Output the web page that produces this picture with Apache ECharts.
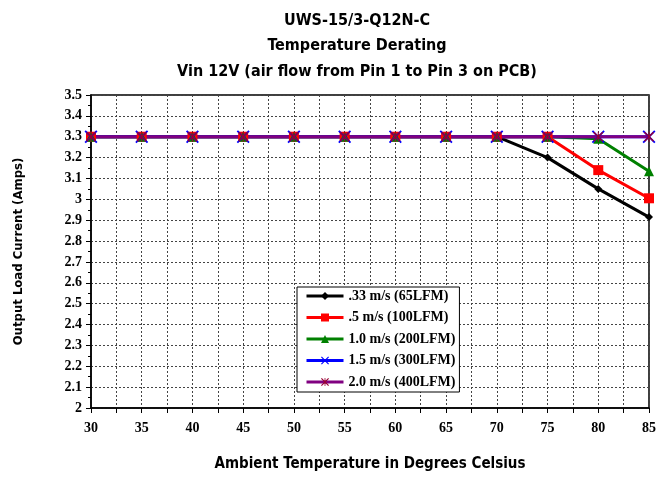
<!DOCTYPE html>
<html>
<head>
<meta charset="utf-8">
<script src="https://cdn.jsdelivr.net/npm/echarts@6/dist/echarts.min.js"></script>
<style>
html,body{margin:0;padding:0;background:#fff;}
#chart{width:667px;height:477px;}
</style>
</head>
<body>
<div id="chart"></div>
<script>
const temps = [30, 35, 40, 45, 50, 55, 60, 65, 70, 75, 80, 85];
const s033 = [3.3, 3.3, 3.3, 3.3, 3.3, 3.3, 3.3, 3.3, 3.3, 3.2, 3.05, 2.915];
const s05  = [3.3, 3.3, 3.3, 3.3, 3.3, 3.3, 3.3, 3.3, 3.3, 3.3, 3.14, 3.005];
const s10  = [3.3, 3.3, 3.3, 3.3, 3.3, 3.3, 3.3, 3.3, 3.3, 3.3, 3.29, 3.135];
const s15  = [3.3, 3.3, 3.3, 3.3, 3.3, 3.3, 3.3, 3.3, 3.3, 3.3, 3.3, 3.3];
const s20  = [3.3, 3.3, 3.3, 3.3, 3.3, 3.3, 3.3, 3.3, 3.3, 3.3, 3.3, 3.3];
const seriesNames = ['.33 m/s (65LFM)', '.5 m/s (100LFM)', '1.0 m/s (200LFM)', '1.5 m/s (300LFM)', '2.0 m/s (400LFM)'];
const titleLines = ['UWS-15/3-Q12N-C', 'Temperature Derating', 'Vin 12V (air flow from Pin 1 to Pin 3 on PCB)'];

const pair = arr => temps.map((t, i) => [t, arr[i]]);
const SANS = "'Liberation Sans Narrow', 'DejaVu Sans Condensed', 'Arial Narrow', sans-serif";
const SERIF = "'Liberation Serif', 'Times New Roman', serif";
const xPath = 'path://M0,1 L1,0 L5,4 L9,0 L10,1 L6,5 L10,9 L9,10 L5,6 L1,10 L0,9 L4,5 Z';
const starPath = 'path://M0,1 L1,0 L4.5,3.5 L4.5,0 L5.5,0 L5.5,3.5 L9,0 L10,1 L6,5 L10,9 L9,10 L5.5,6.5 L5.5,10 L4.5,10 L4.5,6.5 L1,10 L0,9 L4,5 Z';

const chart = echarts.init(document.getElementById('chart'));
chart.setOption({
  backgroundColor: '#fff',
  animation: false,
  title: {
    text: titleLines.join('\n'),
    left: 352,
    top: 3,
    textAlign: 'center',
    textStyle: { fontFamily: SANS, fontWeight: 'bold', fontSize: 16, lineHeight: 25.5, color: '#000' }
  },
  grid: { left: 91, right: 18, top: 95, bottom: 62, show: true, borderColor: '#000', borderWidth: 1.5, backgroundColor: 'transparent' },
  legend: {
    orient: 'vertical',
    left: 297,
    top: 287,
    padding: [2, 4, 3, 8],
    itemGap: 7.5,
    itemWidth: 37,
    itemHeight: 10,
    borderColor: '#000',
    borderWidth: 1,
    backgroundColor: '#fff',
    lineStyle: { width: 3 },
    textStyle: { fontFamily: SERIF, fontWeight: 'bold', fontSize: 14, color: '#000' },
    data: seriesNames
  },
  xAxis: {
    type: 'value',
    min: 30, max: 85, interval: 2.5,
    name: 'Ambient Temperature in Degrees Celsius',
    nameLocation: 'middle',
    nameGap: 49,
    nameTextStyle: { fontFamily: SANS, fontWeight: 'bold', fontSize: 15, color: '#000' },
    axisLine: { lineStyle: { color: '#000', width: 1.5 } },
    axisTick: { show: true, length: 5, lineStyle: { color: '#000' } },
    axisLabel: {
      fontFamily: SERIF, fontWeight: 'bold', fontSize: 14, color: '#000', margin: 13,
      formatter: v => (Math.abs(v % 5) < 1e-6 ? String(v) : '')
    },
    splitLine: { show: true, lineStyle: { color: '#444', type: [2, 2], width: 1 } }
  },
  yAxis: {
    type: 'value',
    min: 2, max: 3.5, interval: 0.1,
    name: 'Output Load Current (Amps)',
    nameLocation: 'middle',
    nameRotate: 90,
    nameGap: 66,
    nameTextStyle: { fontFamily: SANS, fontWeight: 'bold', fontSize: 13, color: '#000' },
    axisLine: { show: true, lineStyle: { color: '#000', width: 1.5 } },
    axisTick: { show: true, length: 5, lineStyle: { color: '#000' } },
    minorTick: { show: true, splitNumber: 2, length: 3, lineStyle: { color: '#000' } },
    axisLabel: {
      fontFamily: SERIF, fontWeight: 'bold', fontSize: 14, color: '#000', margin: 9,
      formatter: v => String(Math.round(v * 10) / 10)
    },
    splitLine: { show: true, lineStyle: { color: '#444', type: [2, 2], width: 1 } }
  },
  series: [
    { name: seriesNames[0], type: 'line', data: pair(s033), color: '#000000',
      lineStyle: { width: 3, color: '#000' }, symbol: 'diamond', symbolSize: 8,
      itemStyle: { color: '#000' } },
    { name: seriesNames[1], type: 'line', data: pair(s05), color: '#ff0000',
      lineStyle: { width: 3, color: '#ff0000' }, symbol: 'rect', symbolSize: 10,
      itemStyle: { color: '#ff0000' } },
    { name: seriesNames[2], type: 'line', data: pair(s10), color: '#008000',
      lineStyle: { width: 3, color: '#008000' }, symbol: 'triangle', symbolSize: 10,
      itemStyle: { color: '#008000' } },
    { name: seriesNames[3], type: 'line', data: pair(s15), color: '#0000ff',
      lineStyle: { width: 3, color: '#0000ff' }, symbol: xPath, symbolSize: 13,
      itemStyle: { color: '#0000ff' } },
    { name: seriesNames[4], type: 'line', data: pair(s20), color: '#800080',
      lineStyle: { width: 3, color: '#800080' }, symbol: starPath, symbolSize: 10,
      itemStyle: { color: '#990033' } }
  ]
});
</script>
</body>
</html>
